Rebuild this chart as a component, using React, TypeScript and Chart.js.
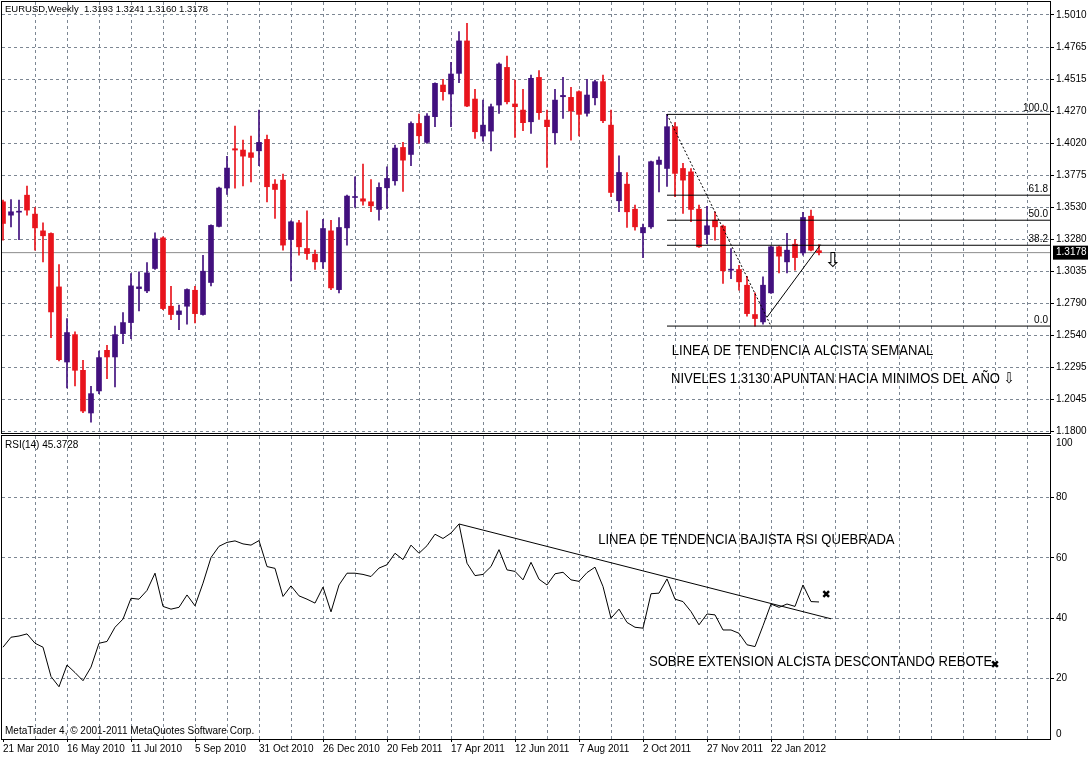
import React, { useEffect, useRef } from 'react';
import { Chart, registerables } from 'chart.js';

Chart.register(...registerables);

const FONT = "'Liberation Sans', Arial, 'DejaVu Sans', sans-serif";
const NOTE_FONT = "15px 'Liberation Sans', Arial, 'DejaVu Sans', sans-serif";
const GRID = '#7d8793';
const BULL = '#42107e';
const BEAR = '#e8141c';

// Weekly EURUSD candles, 21 Mar 2010 .. 4 Mar 2012
const openPrices = [
  1.3570, 1.3467, 1.3490, 1.3621, 1.3475, 1.3346, 1.3326, 1.2914, 1.2335, 1.2546,
  1.2271, 1.1942, 1.2112, 1.2425, 1.2374, 1.2554, 1.2639, 1.2901, 1.2883, 1.3056,
  1.3292, 1.2765, 1.2701, 1.2765, 1.2888, 1.2701, 1.2948, 1.3380, 1.3676, 1.3979,
  1.3969, 1.3948, 1.3963, 1.4051, 1.3706, 1.3737, 1.3279, 1.3408, 1.3210, 1.3166,
  1.3107, 1.3346, 1.2893, 1.3369, 1.3603, 1.3593, 1.3570, 1.3511, 1.3678, 1.3732,
  1.3989, 1.3935, 1.4174, 1.4028, 1.4226, 1.4470, 1.4401, 1.4560, 1.4810, 1.4362,
  1.4077, 1.4115, 1.4316, 1.4606, 1.4324, 1.4277, 1.4187, 1.4529, 1.4200, 1.4102,
  1.4380, 1.4375, 1.4419, 1.4252, 1.4372, 1.4496, 1.4161, 1.3578, 1.3706, 1.3513,
  1.3331, 1.3377, 1.3858, 1.3827, 1.4149, 1.3827, 1.3801, 1.3513, 1.3318, 1.3429,
  1.3382, 1.3043, 1.3048, 1.2927, 1.2701, 1.2644, 1.2868, 1.3223, 1.3107, 1.3243,
  1.3176, 1.3459, 1.3193,
];
const highPrices = [
  1.3583, 1.3588, 1.3583, 1.3691, 1.3526, 1.3408, 1.3331, 1.3086, 1.2670, 1.2567,
  1.2348, 1.2148, 1.2420, 1.2464, 1.2611, 1.2716, 1.3017, 1.3030, 1.3102, 1.3331,
  1.3300, 1.2919, 1.2773, 1.2899, 1.2919, 1.3158, 1.3393, 1.3683, 1.3920, 1.4154,
  1.4046, 1.4077, 1.4277, 1.4084, 1.3742, 1.3783, 1.3423, 1.3428, 1.3500, 1.3197,
  1.3434, 1.3428, 1.3449, 1.3621, 1.3763, 1.3861, 1.3742, 1.3717, 1.3840, 1.4007,
  1.4028, 1.4187, 1.4246, 1.4251, 1.4488, 1.4514, 1.4645, 1.4882, 1.4946, 1.4437,
  1.4354, 1.4324, 1.4642, 1.4694, 1.4509, 1.4437, 1.4547, 1.4581, 1.4277, 1.4437,
  1.4529, 1.4452, 1.4426, 1.4514, 1.4509, 1.4547, 1.4277, 1.3925, 1.3796, 1.3544,
  1.3398, 1.3884, 1.3917, 1.4244, 1.4180, 1.3866, 1.3827, 1.3544, 1.3536, 1.3493,
  1.3390, 1.3210, 1.3081, 1.2996, 1.2868, 1.2991, 1.3228, 1.3228, 1.3326, 1.3279,
  1.3488, 1.3506, 1.3241,
];
const lowPrices = [
  1.3274, 1.3377, 1.3279, 1.3467, 1.3197, 1.3107, 1.2523, 1.2343, 1.2135, 1.2150,
  1.1944, 1.1872, 1.2091, 1.2207, 1.2142, 1.2477, 1.2515, 1.2729, 1.2870, 1.3048,
  1.2739, 1.2662, 1.2585, 1.2626, 1.2636, 1.2696, 1.2922, 1.3377, 1.3626, 1.3676,
  1.3693, 1.3724, 1.3848, 1.3570, 1.3441, 1.3197, 1.2960, 1.3158, 1.3125, 1.3048,
  1.3056, 1.2893, 1.2868, 1.3236, 1.3526, 1.3544, 1.3493, 1.3429, 1.3519, 1.3699,
  1.3650, 1.3848, 1.4020, 1.4020, 1.4149, 1.4354, 1.4149, 1.4488, 1.4303, 1.4059,
  1.4038, 1.3963, 1.4252, 1.4324, 1.4066, 1.4118, 1.4097, 1.4205, 1.3835, 1.4015,
  1.4213, 1.4046, 1.4077, 1.4231, 1.4316, 1.4180, 1.3609, 1.3493, 1.3372, 1.3351,
  1.3140, 1.3364, 1.3647, 1.3689, 1.3609, 1.3480, 1.3416, 1.3218, 1.3248, 1.3274,
  1.2940, 1.2978, 1.2888, 1.2688, 1.2612, 1.2626, 1.2863, 1.3022, 1.3022, 1.3043,
  1.3158, 1.3192, 1.3160,
];
const closePrices = [
  1.3403, 1.3493, 1.3495, 1.3506, 1.3369, 1.3308, 1.2721, 1.2353, 1.2562, 1.2271,
  1.1957, 1.2091, 1.2369, 1.2374, 1.2546, 1.2639, 1.2922, 1.2914, 1.3022, 1.3284,
  1.2747, 1.2701, 1.2729, 1.2894, 1.2708, 1.3035, 1.3388, 1.3676, 1.3830, 1.3969,
  1.3922, 1.3912, 1.4028, 1.3686, 1.3665, 1.3236, 1.3416, 1.3223, 1.3171, 1.3107,
  1.3364, 1.2906, 1.3372, 1.3614, 1.3609, 1.3575, 1.3539, 1.3681, 1.3750, 1.3984,
  1.3891, 1.4174, 1.4079, 1.4231, 1.4483, 1.4419, 1.4555, 1.4810, 1.4308, 1.4110,
  1.4161, 1.4303, 1.4632, 1.4341, 1.4303, 1.4180, 1.4522, 1.4257, 1.4149, 1.4354,
  1.4390, 1.4270, 1.4244, 1.4393, 1.4496, 1.4195, 1.3642, 1.3796, 1.3493, 1.3377,
  1.3372, 1.3879, 1.3891, 1.4149, 1.3789, 1.3737, 1.3511, 1.3223, 1.3385, 1.3377,
  1.3038, 1.3050, 1.2953, 1.2708, 1.2670, 1.2927, 1.3223, 1.3151, 1.3197, 1.3140,
  1.3449, 1.3197, 1.3178,
];

// RSI(14)
const rsiValues = [
  30.4, 33.7, 34.1, 34.8, 31.7, 30.4, 20.7, 17.3, 24.5, 22.0,
  19.3, 23.8, 31.7, 32.3, 37.0, 39.7, 46.6, 46.3, 49.2, 54.9,
  43.9, 43.0, 43.6, 47.7, 44.1, 51.6, 60.1, 63.8, 65.1, 65.6,
  64.6, 64.2, 65.7, 57.1, 56.5, 47.2, 50.7, 47.4, 46.3, 45.0,
  50.3, 42.1, 51.0, 54.9, 54.9, 54.5, 53.8, 56.6, 57.7, 61.5,
  59.4, 64.2, 61.5, 64.0, 67.8, 66.4, 68.2, 71.2, 58.2, 54.1,
  54.5, 57.1, 62.7, 56.0, 55.5, 52.7, 58.5, 52.9, 51.0, 54.7,
  55.2, 52.7, 52.2, 55.1, 56.9, 50.5, 40.0, 43.0, 38.6, 37.0,
  36.7, 48.1, 48.3, 53.0, 46.3, 45.5, 42.2, 37.8, 41.4, 41.1,
  36.1, 36.1, 35.0, 31.2, 30.6, 37.5, 44.7, 43.6, 44.7, 43.9,
  51.0, 45.5, 45.3728,
];

const dateLabels = [
  '21 Mar 2010', '16 May 2010', '11 Jul 2010', '5 Sep 2010', '31 Oct 2010',
  '26 Dec 2010', '20 Feb 2011', '17 Apr 2011', '12 Jun 2011', '7 Aug 2011',
  '2 Oct 2011', '27 Nov 2011', '22 Jan 2012',
];
const priceTickLabels = [
  '1.1800', '1.2045', '1.2295', '1.2540', '1.2790', '1.3035', '1.3280',
  '1.3530', '1.3775', '1.4020', '1.4270', '1.4515', '1.4765', '1.5010',
];
const rsiTickValues = [1.66, 20, 40, 60, 80, 98.0];
const rsiTickLabels = ['0', '20', '40', '60', '80', '100'];

const lastPrice = 1.3178;
const fibLevels = [1.4244, 1.3621, 1.3428, 1.3235, 1.2612];
const fibNames = ['100.0', '61.8', '50.0', '38.2', '0.0'];
const fibStart = 83;
const fibDiagonal = [{ x: 83, y: 1.4244 }, { x: 96, y: 1.2612 }];
const upTrendLine = [{ x: 95.5, y: 1.268 }, { x: 102.2, y: 1.324 }];
const rsiTrendLine = [{ x: 57, y: 71.2 }, { x: 103.5, y: 39.8 }];
const crossMarks = [{ x: 102.9, y: 48.0 }, { x: 124, y: 24.8 }];

const titleText = 'EURUSD,Weekly  1.3193 1.3241 1.3160 1.3178';
const rsiTitle = 'RSI(14) 45.3728';
const copyright = 'MetaTrader 4, © 2001-2011 MetaQuotes Software Corp.';
const mainNotes = [
  { text: 'LINEA DE TENDENCIA ALCISTA SEMANAL', x: 83.6, y: 1.2420 },
  { text: 'NIVELES 1.3130 APUNTAN HACIA MINIMOS DEL AÑO ⇩', x: 83.5, y: 1.2204 },
];
const mainArrow = { text: '⇩', x: 103.75, y: 1.3106 };
const rsiNotes = [
  { text: 'LINEA DE TENDENCIA BAJISTA RSI QUEBRADA', x: 74.4, y: 65.9 },
  { text: 'SOBRE EXTENSION ALCISTA DESCONTANDO REBOTE', x: 80.75, y: 25.5 },
];

const xMin = -0.125;
const xMax = 130.875;
const priceMin = 1.17877;
const priceMax = 1.51102;
const rsiMax = 100.33;

const W = 1088;
const MAIN_H = 434;
const RSI_H = 323;

function drawText(ctx: CanvasRenderingContext2D, text: string, x: number, y: number, font: string, align: CanvasTextAlign = 'left', color = '#000', scaleX = 1) {
  ctx.save();
  ctx.font = font;
  ctx.fillStyle = color;
  ctx.textBaseline = 'middle';
  ctx.textAlign = align;
  ctx.translate(x, y);
  ctx.scale(scaleX, 1);
  ctx.fillText(text, 0, 0);
  ctx.restore();
}

function drawFrame(chart: any) {
  const { ctx, chartArea } = chart;
  ctx.save();
  ctx.strokeStyle = '#000';
  ctx.lineWidth = 1;
  ctx.strokeRect(chartArea.left - 0.5, chartArea.top - 0.5, chartArea.right - chartArea.left + 1, chartArea.bottom - chartArea.top + 1);
  ctx.restore();
}

function zeroPadding(scale: any) {
  scale.paddingLeft = 0;
  scale.paddingRight = 0;
  scale.paddingTop = 0;
  scale.paddingBottom = 0;
}

const gridTicks: number[] = [];
for (let v = 4; v <= 128; v += 4) gridTicks.push(v);

function xScale(showLabels: boolean) {
  return {
    type: 'linear',
    min: xMin,
    max: xMax,
    offset: false,
    afterBuildTicks: (scale: any) => {
      scale.ticks = (showLabels ? [0, ...gridTicks] : gridTicks).map((v) => ({ value: v }));
    },
    afterFit: (scale: any) => {
      scale.height = showLabels ? 18 : 0;
      zeroPadding(scale);
    },
    grid: {
      offset: false,
      color: (c: any) => (c.tick && c.tick.value === 0 ? 'transparent' : GRID),
      lineWidth: 1,
      drawTicks: showLabels,
      tickLength: 3,
      tickBorderDash: [],
      tickColor: (c: any) => (c.tick && c.tick.value % 8 === 0 && c.tick.value / 8 < dateLabels.length ? '#000' : 'transparent'),
    },
    border: { display: false, dash: [3, 3] },
    ticks: {
      display: showLabels,
      autoSkip: false,
      maxRotation: 0,
      minRotation: 0,
      align: 'start',
      padding: 1,
      color: '#000',
      font: { family: FONT, size: 10 },
      callback: (value: number) => (value % 8 === 0 && value / 8 < dateLabels.length ? dateLabels[value / 8] : ''),
    },
  };
}

export default function App() {
  const mainRef = useRef<HTMLCanvasElement>(null);
  const rsiRef = useRef<HTMLCanvasElement>(null);

  useEffect(() => {
    const idx = openPrices.map((_, i) => i);
    const colors = idx.map((i) => (closePrices[i] >= openPrices[i] ? BULL : BEAR));
    const priceGrid = priceTickLabels.map((_, k) => 1.18 + (k * (1.501 - 1.18)) / 13);
    const priceTicks = [...priceGrid, lastPrice];
    const NP = priceGrid.length;

    const mainPlugin = {
      id: 'mainDecor',
      afterDatasetsDraw(chart: any) {
        const { ctx, chartArea, scales } = chart;
        const x = scales.x;
        const y = scales.y;
        drawFrame(chart);
        drawText(ctx, titleText, chartArea.left + 3, chartArea.top + 7, `9.5px ${FONT}`);
        fibLevels.forEach((lvl, k) => {
          drawText(ctx, fibNames[k], chartArea.right - 2, y.getPixelForValue(lvl) - 6, `10px ${FONT}`, 'right');
        });
        mainNotes.forEach((n) => {
          drawText(ctx, n.text, x.getPixelForValue(n.x), y.getPixelForValue(n.y), NOTE_FONT, 'left', '#000', 0.87);
        });
        drawText(ctx, mainArrow.text, x.getPixelForValue(mainArrow.x), y.getPixelForValue(mainArrow.y), "21px 'DejaVu Sans', sans-serif", 'center');
      },
    };

    const main = new Chart(mainRef.current as HTMLCanvasElement, {
      type: 'bar',
      data: {
        datasets: [
          {
            type: 'line',
            data: [{ x: xMin, y: lastPrice }, { x: xMax, y: lastPrice }],
            borderColor: '#8c8c8c',
            borderWidth: 1,
            pointRadius: 0,
            order: 10,
          },
          {
            type: 'bar',
            data: idx.map((i) => ({ x: i, y: [lowPrices[i], highPrices[i]] })),
            backgroundColor: colors,
            borderWidth: 0,
            barThickness: 1,
            grouped: false,
            order: 5,
          },
          {
            type: 'bar',
            data: idx.map((i) => ({ x: i, y: [openPrices[i], closePrices[i]] })),
            backgroundColor: colors,
            borderWidth: 0,
            barThickness: 5,
            minBarLength: 1,
            grouped: false,
            order: 4,
          },
          ...fibLevels.map((lvl) => ({
            type: 'line',
            data: [{ x: fibStart, y: lvl }, { x: xMax, y: lvl }],
            borderColor: '#000',
            borderWidth: 1,
            pointRadius: 0,
            order: 1,
          })),
          {
            type: 'line',
            data: fibDiagonal,
            borderColor: '#000',
            borderWidth: 1,
            borderDash: [2, 2],
            pointRadius: 0,
            order: 1,
          },
          {
            type: 'line',
            data: upTrendLine,
            borderColor: '#000',
            borderWidth: 1,
            pointRadius: 0,
            order: 1,
          },
        ] as any,
      },
      options: {
        animation: false,
        responsive: false,
        events: [],
        layout: { autoPadding: false, padding: { left: 2, top: 2, right: 0, bottom: 1 } },
        plugins: { legend: { display: false }, tooltip: { enabled: false } },
        scales: {
          x: xScale(false) as any,
          y: {
            type: 'linear',
            position: 'right',
            min: priceMin,
            max: priceMax,
            afterBuildTicks: (scale: any) => {
              scale.ticks = priceTicks.map((v) => ({ value: v }));
            },
            afterFit: (scale: any) => {
              scale.width = W - 1050;
              zeroPadding(scale);
            },
            grid: {
              color: (c: any) => (c.index === NP ? 'transparent' : GRID),
              lineWidth: 1,
              drawTicks: true,
              tickLength: 4,
              tickBorderDash: [],
              tickColor: (c: any) => (c.index === NP ? 'transparent' : '#000'),
            },
            border: { display: false, dash: [3, 3] },
            ticks: {
              autoSkip: false,
              padding: 2,
              font: { family: FONT, size: 10 },
              color: (c: any) => (c.index === NP ? '#fff' : '#000'),
              showLabelBackdrop: (c: any) => c.index === NP,
              backdropColor: '#000',
              backdropPadding: { top: 1, bottom: 1, left: 3, right: 4 },
              callback: (_v: any, i: number) => (i < NP ? priceTickLabels[i] : lastPrice.toFixed(4)),
            },
          } as any,
        },
      },
      plugins: [mainPlugin],
    });

    const rsiPlugin = {
      id: 'rsiDecor',
      afterDatasetsDraw(chart: any) {
        const { ctx, chartArea, scales } = chart;
        const x = scales.x;
        const y = scales.y;
        drawFrame(chart);
        drawText(ctx, rsiTitle, chartArea.left + 3, chartArea.top + 9, `10px ${FONT}`);
        drawText(ctx, copyright, chartArea.left + 3, chartArea.bottom - 8, `10px ${FONT}`);
        rsiNotes.forEach((n) => {
          drawText(ctx, n.text, x.getPixelForValue(n.x), y.getPixelForValue(n.y), NOTE_FONT, 'left', '#000', 0.87);
        });
      },
    };

    const rsi = new Chart(rsiRef.current as HTMLCanvasElement, {
      type: 'line',
      data: {
        datasets: [
          {
            data: rsiValues.map((v, i) => ({ x: i, y: v })),
            borderColor: '#000',
            borderWidth: 1,
            pointRadius: 0,
            tension: 0,
          },
          {
            data: rsiTrendLine,
            borderColor: '#000',
            borderWidth: 1,
            pointRadius: 0,
          },
          {
            data: crossMarks,
            showLine: false,
            pointStyle: 'crossRot',
            pointRadius: 4,
            pointBorderWidth: 2.5,
            borderColor: '#000',
            pointBorderColor: '#000',
          },
        ] as any,
      },
      options: {
        animation: false,
        responsive: false,
        events: [],
        layout: { autoPadding: false, padding: { left: 2, top: 2, right: 0, bottom: 0 } },
        plugins: { legend: { display: false }, tooltip: { enabled: false } },
        scales: {
          x: xScale(true) as any,
          y: {
            type: 'linear',
            position: 'right',
            min: 0,
            max: rsiMax,
            afterBuildTicks: (scale: any) => {
              scale.ticks = rsiTickValues.map((v) => ({ value: v }));
            },
            afterFit: (scale: any) => {
              scale.width = W - 1050;
              zeroPadding(scale);
            },
            grid: {
              color: (c: any) => (c.index === 0 || c.index === rsiTickValues.length - 1 ? 'transparent' : GRID),
              lineWidth: 1,
              drawTicks: true,
              tickLength: 4,
              tickBorderDash: [],
              tickColor: (c: any) => (c.index === 0 || c.index === rsiTickValues.length - 1 ? 'transparent' : '#000'),
            },
            border: { display: false, dash: [3, 3] },
            ticks: {
              autoSkip: false,
              padding: 2,
              font: { family: FONT, size: 10 },
              color: '#000',
              callback: (_v: any, i: number) => rsiTickLabels[i],
            },
          } as any,
        },
      },
      plugins: [rsiPlugin],
    });

    return () => {
      main.destroy();
      rsi.destroy();
    };
  }, []);

  return (
    <div style={{ position: 'fixed', left: 0, top: 0, width: W, height: MAIN_H + RSI_H, background: '#fff' }}>
      <canvas ref={mainRef} width={W} height={MAIN_H} style={{ position: 'absolute', left: 0, top: 0, display: 'block' }} />
      <canvas ref={rsiRef} width={W} height={RSI_H} style={{ position: 'absolute', left: 0, top: MAIN_H, display: 'block' }} />
    </div>
  );
}
